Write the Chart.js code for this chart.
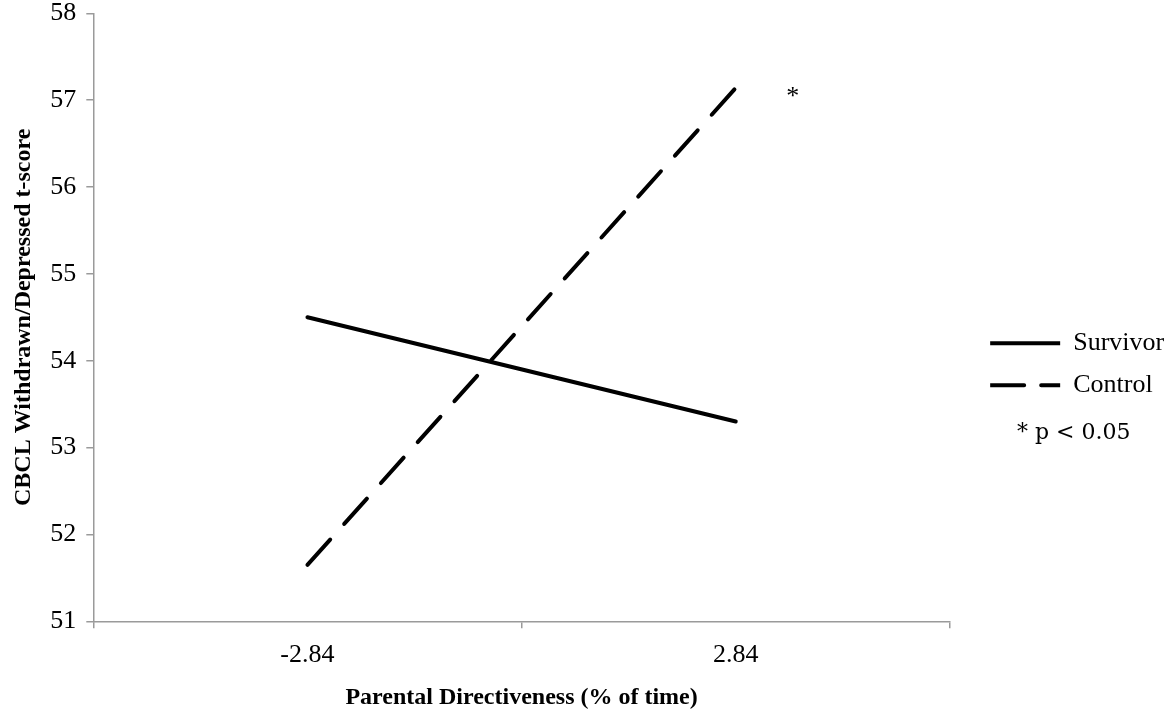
<!DOCTYPE html>
<html>
<head>
<meta charset="utf-8">
<script src="https://cdn.jsdelivr.net/npm/chart.js@4/dist/chart.umd.min.js"></script>
<style>
  html, body { margin: 0; padding: 0; background: #ffffff; }
  #wrap { width: 1169px; height: 715px; position: relative; }
</style>
</head>
<body>
<div id="wrap"><canvas id="c"></canvas></div>
<script>
// ---- data ----
const categories = ['-2.84', '2.84'];
const survivorValues = [54.5, 53.3];
const controlValues = [51.65, 57.14];
const seriesNames = ['Survivor', 'Control'];
const yMin = 51, yMax = 58, yStep = 1;
const xTitle = 'Parental Directiveness (% of time)';
const yTitle = 'CBCL Withdrawn/Depressed t-score';
const sigMark = '*';
const noteText = '* p < 0.05';

const serif = '"Liberation Serif", "Times New Roman", serif';

const notesPlugin = {
  id: 'notes',
  afterDraw(chart) {
    const ctx = chart.ctx;
    const xs = chart.scales.x, ys = chart.scales.y;
    ctx.save();
    ctx.fillStyle = '#000';
    ctx.font = '26px ' + serif;
    ctx.textAlign = 'center';
    ctx.textBaseline = 'alphabetic';
    ctx.fillText(sigMark, xs.getPixelForValue(1) + 57, ys.getPixelForValue(controlValues[1]) + 16);
    ctx.font = '22px "DejaVu Serif", serif';
    ctx.textAlign = 'left';
    ctx.textBaseline = 'middle';
    ctx.fillText(noteText, 1017, 433);
    ctx.restore();
  }
};

new Chart(document.getElementById('c'), {
  type: 'line',
  data: {
    labels: categories,
    datasets: [
      {
        label: seriesNames[0],
        data: survivorValues,
        borderColor: '#000',
        backgroundColor: '#000',
        borderWidth: 4,
        borderCapStyle: 'round',
        pointRadius: 0,
        fill: false,
        tension: 0
      },
      {
        label: seriesNames[1],
        data: controlValues,
        borderColor: '#000',
        backgroundColor: '#000',
        borderWidth: 4,
        borderDash: [34, 21],
        borderCapStyle: 'round',
        pointRadius: 0,
        fill: false,
        tension: 0
      }
    ]
  },
  options: {
    responsive: true,
    maintainAspectRatio: false,
    animation: false,
    devicePixelRatio: 1,
    layout: { padding: { top: 13.3, right: 0, bottom: 0, left: 0 } },
    plugins: {
      legend: {
        position: 'right',
        labels: {
          usePointStyle: false,
          boxWidth: 70,
          boxHeight: 0,
          padding: 16,
          color: '#000',
          font: { family: serif, size: 26 }
        }
      },
      tooltip: { enabled: false }
    },
    scales: {
      x: {
        offset: true,
        grid: { offset: true, drawOnChartArea: false, drawTicks: true, tickLength: 7, color: '#9a9a9a', lineWidth: 1.5 },
        border: { display: true, color: '#9a9a9a', width: 1.5 },
        ticks: { color: '#000', padding: 14, font: { family: serif, size: 26, lineHeight: 1 } },
        title: {
          display: true, text: xTitle, color: '#000',
          font: { family: serif, size: 24, weight: 'bold', lineHeight: 1.2 },
          padding: { top: 0, bottom: 3 }
        },
        afterFit(s) { s.height = 93.7; }
      },
      y: {
        min: yMin, max: yMax,
        grid: { drawOnChartArea: false, drawTicks: true, tickLength: 7, color: '#9a9a9a', lineWidth: 1.5 },
        border: { display: true, color: '#9a9a9a', width: 1.5 },
        ticks: { stepSize: yStep, color: '#000', padding: 10, font: { family: serif, size: 26, lineHeight: 0.2 } },
        title: {
          display: true, text: yTitle, color: '#000',
          font: { family: serif, size: 24, weight: 'bold', lineHeight: 1.2 },
          padding: { top: 9.6, bottom: 0 }
        },
        afterFit(s) { s.width = 93.3; }
      },
      ySpacer: {
        type: 'linear',
        position: 'right',
        display: true,
        grid: { display: false },
        border: { display: false },
        ticks: { display: false },
        afterFit(s) { s.width = 24.3; }
      }
    }
  },
  plugins: [notesPlugin]
});
</script>
</body>
</html>
